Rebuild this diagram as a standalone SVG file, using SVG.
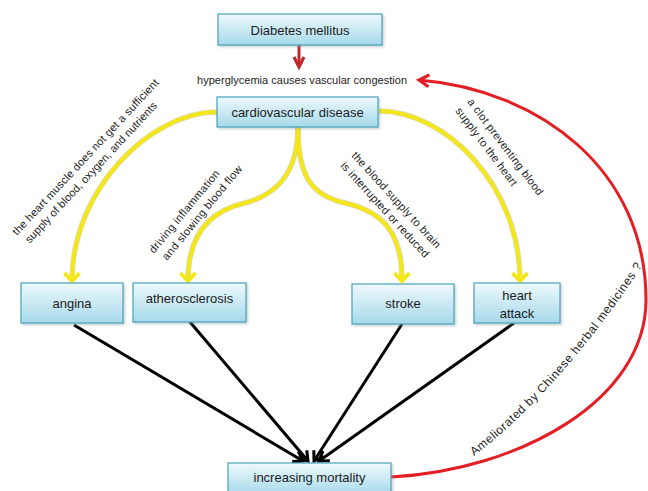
<svg xmlns="http://www.w3.org/2000/svg" width="648" height="491" viewBox="0 0 648 491">
<style>
.box{fill:url(#boxg);stroke:#4aa2bc;stroke-width:1.2;filter:url(#sh)}
.lbl{font-family:"Liberation Sans",Arial,sans-serif;font-size:13px;fill:#1c1c1c;text-anchor:middle}
.sm{font-family:"Liberation Sans",Arial,sans-serif;font-size:11px;fill:#1c1c1c}
.yel{fill:none;stroke:#f3e71a;stroke-width:4;marker-end:url(#ya)}
.yedge{fill:none;stroke:#b8ad70;stroke-width:5.5;stroke-opacity:0.45}
.blk{fill:none;stroke:#000;stroke-width:3;marker-end:url(#ba)}
</style>
<defs>
<linearGradient id="boxg" x1="0" y1="0" x2="0" y2="1">
<stop offset="0" stop-color="#eef9fc"/>
<stop offset="1" stop-color="#a6d9ea"/>
</linearGradient>
<filter id="sh" x="-10%" y="-20%" width="120%" height="150%">
<feDropShadow dx="1.5" dy="1.5" stdDeviation="1" flood-color="#7a9aa5" flood-opacity="0.45"/>
</filter>
<marker id="ya" markerUnits="userSpaceOnUse" orient="auto" refX="0" refY="0" markerWidth="20" markerHeight="20" overflow="visible">
<path d="M-8,-7.5 L0,0 L-8,7.5" fill="none" stroke="#f3e71a" stroke-width="4" stroke-linejoin="miter"/>
</marker>
<marker id="ba" markerUnits="userSpaceOnUse" orient="auto" refX="0" refY="0" markerWidth="20" markerHeight="20" overflow="visible">
<path d="M-9,-6 L0,0 L-9,6" fill="none" stroke="#000" stroke-width="3"/>
</marker>
<marker id="ra" markerUnits="userSpaceOnUse" orient="auto" refX="0" refY="0" markerWidth="20" markerHeight="20" overflow="visible">
<path d="M-10,-6 L0,0 L-10,6" fill="none" stroke="#e31e24" stroke-width="3.2"/>
</marker>
<marker id="dra" markerUnits="userSpaceOnUse" orient="auto" refX="0" refY="0" markerWidth="20" markerHeight="20" overflow="visible">
<path d="M-10,-5 L0,0 L-10,5" fill="none" stroke="#c1272d" stroke-width="3.2"/>
</marker>
<path id="amel" d="M474,456 Q560,390 645,262"/>
</defs>
<rect width="648" height="491" fill="#fff"/>

<g id="connectors">
<path d="M299,45 L299,67" fill="none" stroke="#c1272d" stroke-width="3" marker-end="url(#dra)"/>
<path class="yedge" d="M217,112 C150,112 72,190 72,280"/>
<path class="yedge" d="M298,127 C298,175 275,195 245,203 C205,212 188,240 188,280"/>
<path class="yedge" d="M298,127 C298,175 310,195 345,203 C385,212 402,235 402,280"/>
<path class="yedge" d="M379,111 C445,111 520,185 520,280"/>
<path class="yel" d="M217,112 C150,112 72,190 72,281"/>
<path class="yel" d="M298,127 C298,175 275,195 245,203 C205,212 188,240 188,281"/>
<path class="yel" d="M298,127 C298,175 310,195 345,203 C385,212 402,235 402,281"/>
<path class="yel" d="M379,111 C445,111 520,185 520,281"/>
<path class="blk" d="M74,325 L303,461"/>
<path class="blk" d="M190,322 L308,461"/>
<path class="blk" d="M402,324 L314,461"/>
<path class="blk" d="M514,323 L319,461"/>
<path d="M391,477 C520,470 646,400 646,300 C646,170 540,90 419,80" fill="none" stroke="#e31e24" stroke-width="3" marker-end="url(#ra)"/>
</g>

<g id="labels">
<text class="sm" x="302" y="84" text-anchor="middle" textLength="210">hyperglycemia causes vascular congestion</text>
<g transform="translate(17,236) rotate(-47)">
<text class="sm" x="0" y="0" textLength="209">the heart muscle does not get a sufficient</text>
<text class="sm" x="3" y="14.5" textLength="188">supply of blood, oxygen, and nutrients</text>
</g>
<g transform="translate(154,254) rotate(-50.5)">
<text class="sm" x="0" y="0" textLength="104">driving inflammation</text>
<text class="sm" x="3" y="14.5" textLength="119">and slowing blood flow</text>
</g>
<g transform="translate(351,156) rotate(47.5)">
<text class="sm" x="0" y="0" textLength="126">the blood supply to brain</text>
<text class="sm" x="0" y="15" textLength="125">is interrupted or reduced</text>
</g>
<g transform="translate(467,102) rotate(53)">
<text class="sm" x="0" y="0" textLength="118">a clot preventing blood</text>
<text class="sm" x="0" y="15" textLength="95">supply to the heart</text>
</g>
<text class="sm" style="font-size:12px"><textPath href="#amel" textLength="255">Ameliorated by Chinese herbal medicines ?</textPath></text>
</g>

<g id="diabetes">
<rect class="box" x="218" y="14" width="164" height="31"/>
<text class="lbl" x="300" y="34.5">Diabetes mellitus</text>
</g>
<g id="cardiovascular">
<rect class="box" x="217" y="97" width="161" height="30"/>
<text class="lbl" x="297.5" y="117">cardiovascular disease</text>
</g>
<g id="angina">
<rect class="box" x="21" y="283" width="102" height="40"/>
<text class="lbl" x="72" y="307.5">angina</text>
</g>
<g id="atherosclerosis">
<rect class="box" x="133" y="283" width="113" height="39"/>
<text class="lbl" x="189.5" y="302.5">atherosclerosis</text>
</g>
<g id="stroke">
<rect class="box" x="352" y="284" width="102" height="40"/>
<text class="lbl" x="403" y="307.5">stroke</text>
</g>
<g id="heart-attack">
<rect class="box" x="474" y="283" width="86" height="40"/>
<text class="lbl" x="517" y="299.5">heart<tspan x="517" dy="18">attack</tspan></text>
</g>
<g id="mortality">
<rect class="box" x="228" y="463" width="163" height="32"/>
<text class="lbl" x="309.5" y="481.5">increasing mortality</text>
</g>
</svg>
